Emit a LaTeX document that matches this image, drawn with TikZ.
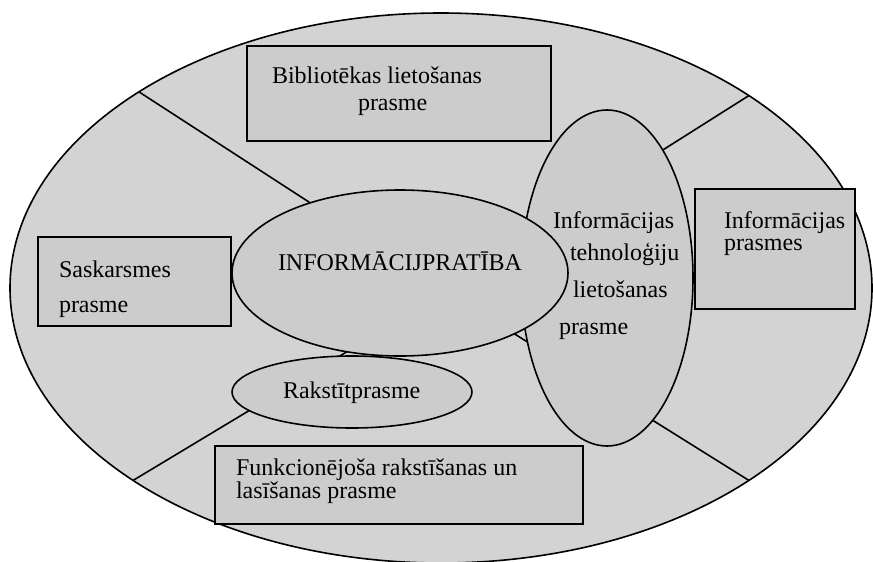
\documentclass[tikz,border=0pt]{standalone}
\usepackage{fontspec}
\setmainfont{Liberation Serif}
\usetikzlibrary{shapes.geometric}
\definecolor{outerfill}{RGB}{211,211,211}
\definecolor{innerfill}{RGB}{204,204,204}
\pgfdeclarelayer{back}
\pgfdeclarelayer{mid}
\pgfsetlayers{back,mid,main}
\begin{document}
\begin{tikzpicture}[x=1pt,y=-1pt,
  every node/.style={inner sep=0pt, outer sep=0pt},
  shapeline/.style={draw=black, line width=1.6pt},
  bigell/.style={ellipse, shapeline, fill=outerfill},
  ell/.style={ellipse, shapeline, fill=innerfill},
  boxnode/.style={rectangle, shapeline, fill=innerfill},
  conn/.style={draw=black, line width=1.6pt},
  txt/.style={anchor=base west, font=\fontsize{24}{28}\selectfont}]
\useasboundingbox (0,0) rectangle (873,562);
\begin{pgfonlayer}{back}
  \node[bigell, minimum width=862pt, minimum height=550pt] (outer) at (441,288) {};
\end{pgfonlayer}
% inner shapes
\node[ell, minimum width=172pt, minimum height=336pt] (tech) at (607,278) {};
\node[ell, minimum width=336pt, minimum height=166pt] (core) at (400,273) {};
\node[ell, minimum width=240pt, minimum height=72pt] (rakst) at (352,392) {};
% boxes
\node[boxnode, minimum width=304pt, minimum height=95pt] (lib) at (399,93.5) {};
\node[boxnode, minimum width=193pt, minimum height=89pt] (sask) at (134.5,281.5) {};
\node[boxnode, minimum width=160pt, minimum height=120pt] (infobox) at (775,249) {};
\node[boxnode, minimum width=368pt, minimum height=78pt] (funk) at (399,485) {};
% connectors beneath the shapes
\begin{pgfonlayer}{mid}
  \draw[conn] (outer.147.4) -- (core.142.6);
  \draw[conn] (outer.32.1) -- (core.18.5);
  \draw[conn] (outer.212.8) -- (core.236.1);
  \draw[conn] (outer.-32.3) -- (core.-28);
\end{pgfonlayer}
% texts
\node[txt] (libA) at (272,83) {Bibliotēkas lietošanas};
\node[txt] (libB) at (358,110) {prasme};
\node[txt] (saskA) at (59,277) {Saskarsmes};
\node[txt] (saskB) at (59,312) {prasme};
\node[txt] (coreT) at (278,270) {INFORMĀCIJPRATĪBA};
\node[txt] (techA) at (553,228) {Informācijas};
\node[txt] (techB) at (570,260) {tehnoloģiju};
\node[txt] (techC) at (573,297) {lietošanas};
\node[txt] (techD) at (559,334) {prasme};
\node[txt] (infoA) at (724,228) {Informācijas};
\node[txt] (infoB) at (724,250) {prasmes};
\node[txt] (rakstT) at (283,398) {Rakstītprasme};
\node[txt] (funkA) at (236,475) {Funkcionējoša rakstīšanas un};
\node[txt] (funkB) at (236,498) {lasīšanas prasme};
\end{tikzpicture}
\end{document}
